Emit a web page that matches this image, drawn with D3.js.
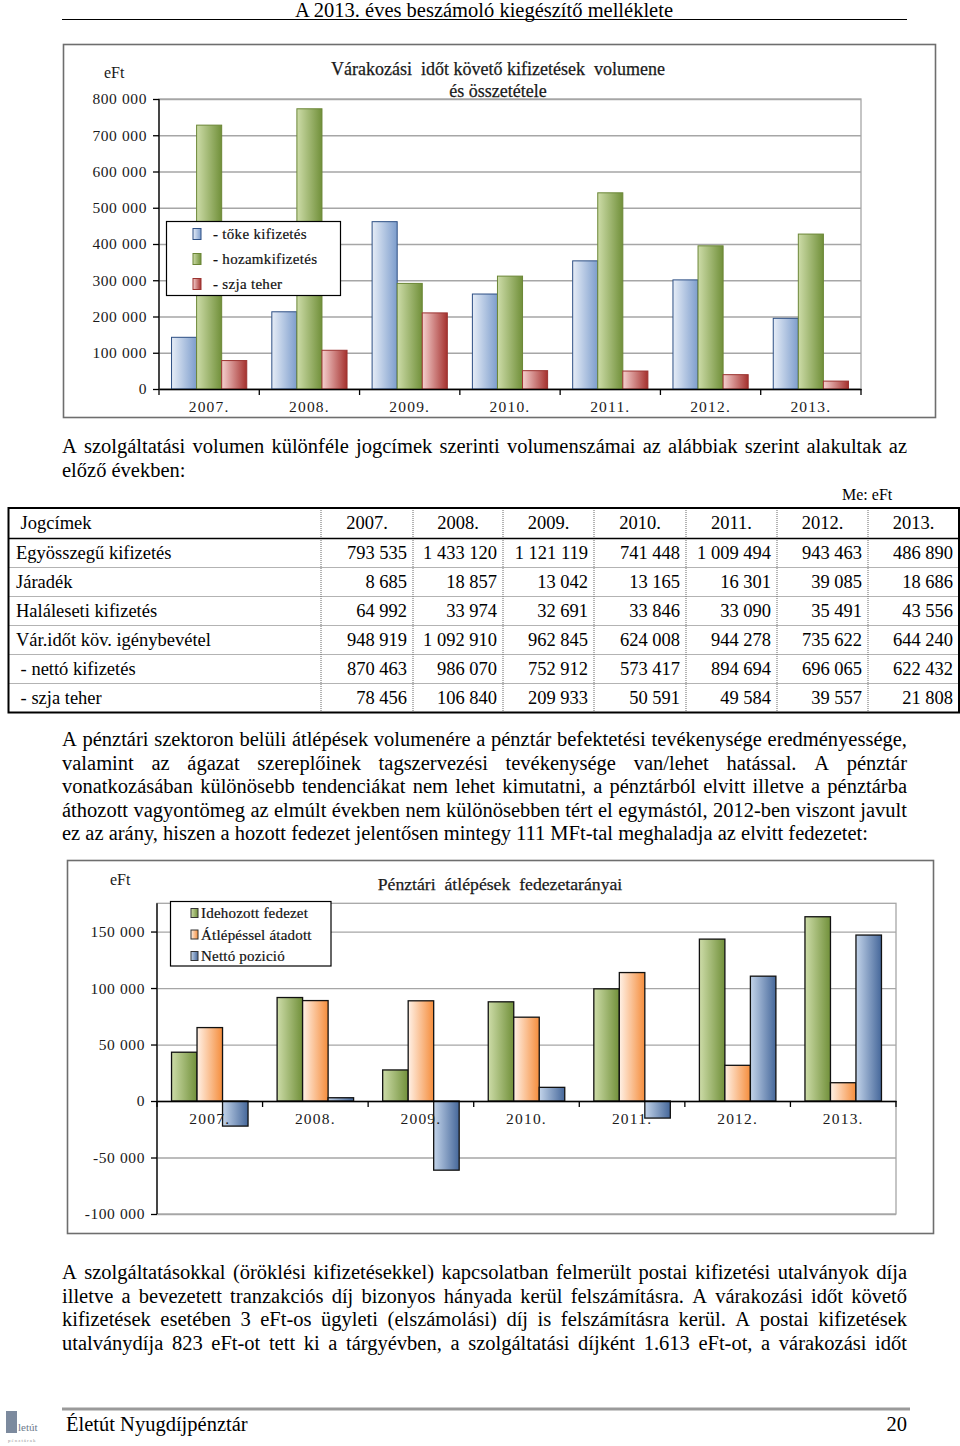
<!DOCTYPE html>
<html>
<head>
<meta charset="utf-8">
<script src="https://cdn.jsdelivr.net/npm/d3@7"></script>
<style>
  body { margin: 0; background: #fff; }
  svg { display: block; font-family: "Liberation Serif", "DejaVu Serif", serif; }
</style>
</head>
<body>
<svg id="page" width="960" height="1446"></svg>
<script>
// chart 1: várakozási időt követő kifizetések
const years = ["2007.", "2008.", "2009.", "2010.", "2011.", "2012.", "2013."];
const tokeKifizetes = [142600, 213000, 461600, 262000, 353500, 301000, 195000];
const hozamKifizetes = [727900, 773000, 291300, 311400, 541200, 395000, 427400];
const szjaTeher = [78456, 106840, 209933, 50591, 49584, 39557, 21808];
const series1 = ["- tőke kifizetés", "- hozamkifizetés", "- szja teher"];
const ticks1 = [0, 100000, 200000, 300000, 400000, 500000, 600000, 700000, 800000];

// chart 2: pénztári átlépések
const idehozott = [43200, 91600, 27500, 87800, 99300, 143300, 163100];
const atadott = [65000, 88900, 88700, 74200, 113700, 31600, 16200];
const nettoPozicio = [-22200, 2900, -61200, 12100, -15100, 110500, 146900];
const series2 = ["Idehozott fedezet", "Átlépéssel átadott", "Nettó pozició"];
const ticks2 = [-100000, -50000, 0, 50000, 100000, 150000];

// table
const tableHead = ["Jogcímek", "2007.", "2008.", "2009.", "2010.", "2011.", "2012.", "2013."];
const rowNames = ["Egyösszegű kifizetés", "Járadék", "Haláleseti kifizetés", "Vár.időt köv. igénybevétel", " - nettó kifizetés", " - szja teher"];
const egyosszegu = [793535, 1433120, 1121119, 741448, 1009494, 943463, 486890];
const jaradek = [8685, 18857, 13042, 13165, 16301, 39085, 18686];
const halaleseti = [64992, 33974, 32691, 33846, 33090, 35491, 43556];
const igenybevetel = [948919, 1092910, 962845, 624008, 944278, 735622, 644240];
const nettoKifizetes = [870463, 986070, 752912, 573417, 894694, 696065, 622432];
const szjaRow = [78456, 106840, 209933, 50591, 49584, 39557, 21808];

const para1 = [
  "A szolgáltatási volumen különféle jogcímek szerinti volumenszámai az alábbiak szerint alakultak az",
  "előző években:"
];
const para2 = [
  "A pénztári szektoron belüli átlépések volumenére a pénztár befektetési tevékenysége eredményessége,",
  "valamint az ágazat szereplőinek tagszervezési tevékenysége van/lehet hatással. A pénztár",
  "vonatkozásában különösebb tendenciákat nem lehet kimutatni, a pénztárból elvitt illetve a pénztárba",
  "áthozott vagyontömeg az elmúlt években nem különösebben tért el egymástól, 2012-ben viszont javult",
  "ez az arány, hiszen a hozott fedezet jelentősen mintegy 111 MFt-tal meghaladja az elvitt fedezetet:"
];
const para3 = [
  "A szolgáltatásokkal (öröklési kifizetésekkel) kapcsolatban felmerült postai kifizetési utalványok díja",
  "illetve a bevezetett tranzakciós díj bizonyos hányada kerül felszámításra. A várakozási időt követő",
  "kifizetések esetében 3 eFt-os ügyleti (elszámolási) díj is felszámításra kerül. A postai kifizetések",
  "utalványdíja 823 eFt-ot tett ki a tárgyévben, a szolgáltatási díjként 1.613 eFt-ot, a várakozási időt"
];

const svg = d3.select("#page");
const BODY = 20.5;
const fmt = v => d3.format(",")(v).replace(/,/g, " ").replace("\u2212", "-");

/*text placed with an optional vertical stretch*/
function txt(g, s, x, y, size, anchor, sy) {
  return g.append("text")
    .attr("transform", `translate(${x},${y}) scale(1,${sy || 1})`)
    .attr("font-size", size)
    .attr("text-anchor", anchor || "start")
    .attr("fill", "#000")
    .text(s);
}

/*justified lines: place every word so the line fills x0..x1*/
function paragraph(lines, x0, x1, y0, lh, size, justifyLast) {
  const g = svg.append("g");
  lines.forEach((line, li) => {
    const y = y0 + li * lh;
    const last = li === lines.length - 1;
    if (last && !justifyLast) { txt(g, line, x0, y, size); return; }
    const words = line.split(" ");
    const nodes = words.map(w => txt(g, w, 0, y, size));
    const widths = nodes.map(n => n.node().getComputedTextLength());
    const gap = (x1 - x0 - d3.sum(widths)) / (words.length - 1);
    let x = x0;
    nodes.forEach((n, i) => {
      n.attr("transform", `translate(${x},${y})`);
      x += widths[i] + gap;
    });
  });
}

/*horizontal gradients for the bar fills*/
const defs = svg.append("defs");
function grad(id, c0, c1) {
  const lg = defs.append("linearGradient").attr("id", id)
    .attr("x1", 0).attr("x2", 1).attr("y1", 0).attr("y2", 0);
  lg.append("stop").attr("offset", "0%").attr("stop-color", c0);
  lg.append("stop").attr("offset", "100%").attr("stop-color", c1);
}
grad("gBlue", "#e6edf7", "#7d9dcc");
grad("gGreen", "#cddca8", "#71903a");
grad("gRed", "#f5d0cf", "#a5312e");
grad("gOrange", "#fff1e6", "#f58d3c");
grad("gBlue2", "#c3d4ea", "#45679a");

// page header
txt(svg, "A 2013. éves beszámoló kiegészítő melléklete", 484, 17, BODY, "middle");
svg.append("line").attr("x1", 62).attr("x2", 907).attr("y1", 19.5).attr("y2", 19.5)
  .attr("stroke", "#000").attr("stroke-width", 1);

/*grouped bar chart drawn into a frame*/
function barChart(cfg) {
  const g = svg.append("g");
  g.append("rect").attr("x", cfg.frame[0]).attr("y", cfg.frame[1])
    .attr("width", cfg.frame[2]).attr("height", cfg.frame[3])
    .attr("fill", "#fff").attr("stroke", "#6e6e6e").attr("stroke-width", 1.6);

  const y = d3.scaleLinear().domain(cfg.domain).range([cfg.bottom, cfg.top]);
  const x0 = d3.scaleBand().domain(years).range([cfg.left, cfg.right]).padding(0);
  const x1 = d3.scaleBand().domain(d3.range(cfg.values.length))
    .range([0, x0.bandwidth()]).paddingInner(0).paddingOuter(cfg.outer);

  // plot area border and grid
  g.append("rect").attr("x", cfg.left).attr("y", cfg.top)
    .attr("width", cfg.right - cfg.left).attr("height", cfg.bottom - cfg.top)
    .attr("fill", "none").attr("stroke", "#a6a6a6").attr("stroke-width", 1.3);
  g.append("g").attr("transform", `translate(${cfg.left},0)`)
    .call(d3.axisLeft(y).tickValues(cfg.ticks).tickSize(-(cfg.right - cfg.left)).tickFormat(""))
    .call(a => a.select(".domain").remove())
    .call(a => a.selectAll("line").attr("stroke", "#a6a6a6").attr("stroke-width", 1.3));

  // bars
  cfg.values.forEach((vals, si) => {
    g.append("g").selectAll("rect").data(vals).join("rect")
      .attr("x", (d, i) => x0(years[i]) + x1(si))
      .attr("width", x1.bandwidth())
      .attr("y", d => Math.min(y(d), y(0)))
      .attr("height", d => Math.abs(y(d) - y(0)))
      .attr("fill", `url(#${cfg.fills[si]})`)
      .attr("stroke", cfg.strokes[si]).attr("stroke-width", cfg.barStroke);
  });

  // y axis
  g.append("g").attr("transform", `translate(${cfg.left},0)`)
    .call(d3.axisLeft(y).tickValues(cfg.ticks).tickSize(6).tickPadding(cfg.tickPad).tickFormat(fmt))
    .call(a => a.select(".domain").attr("stroke", "#000").attr("stroke-width", 1.3)
      .attr("d", `M0,${cfg.top}V${cfg.bottom}`))
    .call(a => a.selectAll("line").attr("stroke", "#000").attr("stroke-width", 1.3))
    .call(a => a.selectAll("text").attr("font-family", "Liberation Serif")
      .attr("font-size", cfg.font).attr("fill", "#1a1a1a").attr("letter-spacing", 0.6));

  // x axis along zero with ticks on group boundaries
  const xa = g.append("g").attr("transform", `translate(0,${y(0)})`)
    .call(d3.axisBottom(x0).tickSize(0).tickPadding(cfg.labelPad))
    .call(a => a.select(".domain").attr("stroke", "#000").attr("stroke-width", 1.5))
    .call(a => a.selectAll("text").attr("font-family", "Liberation Serif")
      .attr("font-size", cfg.font).attr("fill", "#1a1a1a").attr("letter-spacing", 1.2));
  const edges = years.map(d => x0(d)).concat([cfg.right]);
  xa.selectAll("line.edge").data(edges).join("line").attr("class", "edge")
    .attr("x1", d => d).attr("x2", d => d).attr("y1", 0).attr("y2", 6)
    .attr("stroke", "#000").attr("stroke-width", 1.3);

  // unit and title
  g.append("text").attr("x", cfg.unit[0]).attr("y", cfg.unit[1])
    .attr("font-size", 16).attr("fill", "#1a1a1a").text("eFt");
  cfg.title.forEach((t, i) => {
    g.append("text").attr("x", cfg.titleX).attr("y", cfg.titleY + i * 22)
      .attr("text-anchor", "middle").attr("font-size", cfg.titleSize).attr("fill", "#1a1a1a")
      .attr("stroke", "#1a1a1a").attr("stroke-width", 0.25)
      .attr("xml:space", "preserve").text(t);
  });

  // legend
  const L = cfg.legend;
  g.append("rect").attr("x", L.x).attr("y", L.y).attr("width", L.w).attr("height", L.h)
    .attr("fill", "#fff").attr("stroke", "#000").attr("stroke-width", 1.2);
  cfg.names.forEach((n, i) => {
    const cy = L.y0 + i * L.dy;
    g.append("rect").attr("x", L.sx).attr("y", cy - L.sh / 2)
      .attr("width", L.sw).attr("height", L.sh)
      .attr("fill", `url(#${cfg.fills[i]})`).attr("stroke", cfg.legendStroke[i]).attr("stroke-width", 1);
    g.append("text").attr("x", L.tx).attr("y", cy + 5).attr("font-size", 15)
      .attr("fill", "#111").attr("stroke", "#111").attr("stroke-width", 0.2)
      .attr("letter-spacing", L.ls).text(n);
  });
}

barChart({
  frame: [63.5, 44.5, 872, 373],
  domain: [0, 800000], top: 99, bottom: 389, left: 159, right: 861,
  ticks: ticks1, values: [tokeKifizetes, hozamKifizetes, szjaTeher], outer: 0.5,
  fills: ["gBlue", "gGreen", "gRed"], strokes: ["#2d4f84", "#6b8636", "#9b3330"], barStroke: 1,
  font: 15.5, tickPad: 6, labelPad: 12,
  unit: [104, 78], title: ["Várakozási  időt követő kifizetések  volumene", "és összetétele"],
  titleX: 498, titleY: 75, titleSize: 18,
  names: series1, legendStroke: ["#2d4f84", "#6b8636", "#9b3330"],
  legend: { x: 166.5, y: 221.5, w: 174, h: 74, y0: 234, dy: 25, sx: 193, sw: 8, sh: 11, tx: 213, ls: 0.3 }
});

barChart({
  frame: [67.5, 860.5, 866, 373],
  domain: [-100000, 175000], top: 903.3, bottom: 1214, left: 157, right: 896,
  ticks: ticks2, values: [idehozott, atadott, nettoPozicio], outer: 0.57,
  fills: ["gGreen", "gOrange", "gBlue2"], strokes: ["#111", "#111", "#111"], barStroke: 1.3,
  font: 15.5, tickPad: 6, labelPad: 12,
  unit: [110, 885], title: ["Pénztári  átlépések  fedezetarányai"],
  titleX: 500, titleY: 890, titleSize: 17.7,
  names: series2, legendStroke: ["#333", "#333", "#333"],
  legend: { x: 170.5, y: 901.5, w: 160.5, h: 64.5, y0: 913, dy: 21.5, sx: 191, sw: 7, sh: 9, tx: 201, ls: 0.2 }
});

// text blocks
paragraph(para1, 62, 907, 453, 23.7, BODY, false);
txt(svg, "Me: eFt", 842, 500, 16);
paragraph(para2, 62, 907, 746, 23.6, BODY, false);
paragraph(para3, 62, 907, 1279, 23.6, BODY, true);

// table
const colEdges = [8.5, 321, 413, 503, 594, 686, 777, 868, 959];
const rowTops = [508, 538.5, 567.5, 596.5, 625.5, 654.5, 683.5, 712.5];
const tableData = [egyosszegu, jaradek, halaleseti, igenybevetel, nettoKifizetes, szjaRow];
const tg = svg.append("g");
colEdges.slice(1, -1).forEach(x => {
  tg.append("line").attr("x1", x).attr("x2", x).attr("y1", rowTops[0]).attr("y2", rowTops[7])
    .attr("stroke", "#666").attr("stroke-width", 1).attr("stroke-dasharray", "1,1");
});
rowTops.slice(2, -1).forEach(y => {
  tg.append("line").attr("x1", colEdges[0]).attr("x2", colEdges[8]).attr("y1", y).attr("y2", y)
    .attr("stroke", "#666").attr("stroke-width", 1).attr("stroke-dasharray", "1,1");
});
tg.append("line").attr("x1", colEdges[0]).attr("x2", colEdges[8]).attr("y1", rowTops[1]).attr("y2", rowTops[1])
  .attr("stroke", "#000").attr("stroke-width", 1.5);
tg.append("rect").attr("x", colEdges[0]).attr("y", rowTops[0])
  .attr("width", colEdges[8] - colEdges[0]).attr("height", rowTops[7] - rowTops[0])
  .attr("fill", "none").attr("stroke", "#000").attr("stroke-width", 2);
const TF = 18.5, TS = 1.07;
tableHead.forEach((h, i) => {
  if (i === 0) txt(tg, " " + h, 16, 529, TF, "start", TS).attr("xml:space", "preserve");
  else txt(tg, h, (colEdges[i] + colEdges[i + 1]) / 2, 529, TF, "middle", TS);
});
rowNames.forEach((n, r) => {
  const y = rowTops[r + 1] + 20.5;
  txt(tg, n, 16, y, TF, "start", TS).attr("xml:space", "preserve");
  tableData[r].forEach((v, c) => txt(tg, fmt(v), colEdges[c + 2] - 6, y, TF, "end", TS));
});

// footer
svg.append("line").attr("x1", 62).attr("x2", 910).attr("y1", 1409).attr("y2", 1409)
  .attr("stroke", "#9a9a9a").attr("stroke-width", 3);
txt(svg, "Életút Nyugdíjpénztár", 66, 1431, BODY);
txt(svg, "20", 907, 1431, BODY, "end");
const logo = svg.append("g");
logo.append("rect").attr("x", 6).attr("y", 1411).attr("width", 11).attr("height", 22)
  .attr("fill", "#7c8a9e");
logo.append("text").attr("x", 18).attr("y", 1431).attr("font-size", 11).attr("fill", "#6d7a8c").text("letút");
logo.append("text").attr("x", 8).attr("y", 1442).attr("font-size", 5).attr("fill", "#999")
  .attr("letter-spacing", 1).text("pénztárak");
</script>
</body>
</html>
